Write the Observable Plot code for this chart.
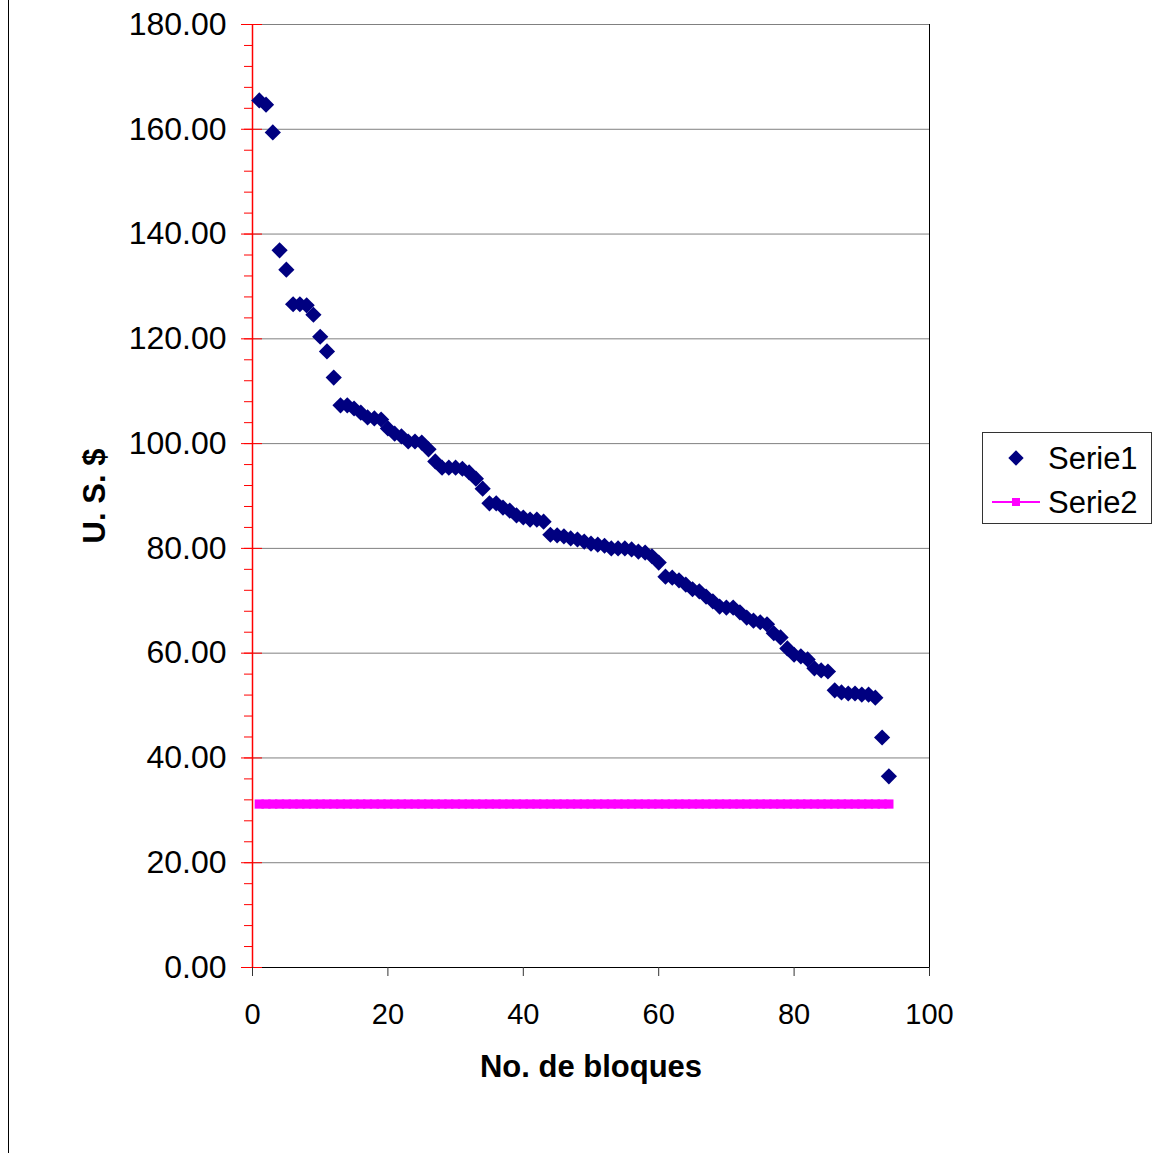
<!DOCTYPE html>
<html><head><meta charset="utf-8">
<script src="https://cdn.jsdelivr.net/npm/d3@7"></script>
<script src="https://cdn.jsdelivr.net/npm/@observablehq/plot@0.6"></script>
<style>
body{margin:0;background:#fff;}
#wrap{position:relative;width:1161px;height:1153px;overflow:hidden;font-family:"Liberation Sans",Arial,sans-serif;background:#fff;}
#edge{position:absolute;left:8px;top:0;width:1px;height:1153px;background:#000;}
#legend{position:absolute;left:982px;top:432px;}
</style></head><body><div id="wrap"><div id="edge"></div></div>
<script>
// Serie1 values (U.S. $) for blocks 1..94
const serie1 = [
  165.5, 164.7, 159.4, 136.9, 133.2, 126.6, 126.6, 126.4, 124.6, 120.4,
  117.6, 112.6, 107.3, 107.3, 106.7, 105.9, 105.0, 104.8, 104.6, 102.9,
  101.9, 101.4, 100.4, 100.4, 100.2, 98.9, 96.6, 95.4, 95.4, 95.4,
  95.2, 94.5, 93.3, 91.4, 88.6, 88.6, 87.8, 87.2, 86.3, 85.9,
  85.5, 85.5, 85.1, 82.6, 82.5, 82.3, 81.9, 81.7, 81.3, 80.9,
  80.7, 80.5, 80.0, 80.0, 80.0, 79.8, 79.4, 79.2, 78.5, 77.3,
  74.6, 74.4, 73.9, 73.1, 72.2, 71.8, 70.8, 69.9, 68.9, 68.7,
  68.7, 67.8, 66.8, 66.2, 65.9, 65.5, 63.8, 63.0, 60.9, 59.7,
  59.4, 58.8, 57.1, 56.7, 56.5, 52.9, 52.5, 52.3, 52.3, 52.1,
  52.1, 51.5, 43.9, 36.5
];
// Serie2: constant level
const serie2Level = 31.2;
const seriesNames = ["Serie1", "Serie2"];
const xTicks = [0, 20, 40, 60, 80, 100];
const yMajor = [0, 20, 40, 60, 80, 100, 120, 140, 160, 180];
const yMinor = d3.range(0, 181, 4);
const xTitle = "No. de bloques";
const yTitle = "U. S. $";

const blocks = d3.range(1, serie1.length + 1);
const rows = blocks.map((b, i) => ({x: b, s1: serie1[i], s2: serie2Level}));

const chart = Plot.plot({
  width: 1161, height: 1153,
  marginLeft: 252, marginRight: 232, marginTop: 24, marginBottom: 186,
  x: {domain: [0, 100], label: null},
  y: {domain: [0, 180], label: null},
  style: {fontFamily: '"Liberation Sans", Arial, sans-serif', background: "white", color: "black"},
  marks: [
    Plot.gridY(yMajor.filter(v => v > 0), {stroke: "#808080", strokeOpacity: 1}),
    Plot.ruleY([0], {stroke: "#000"}),
    Plot.ruleX([100], {stroke: "#000"}),
    Plot.axisY(yMinor, {tickSize: 8, fill: "none", stroke: "red", label: null}),
    Plot.axisY(yMajor, {tickSize: 21, dx: 10, fill: "none", stroke: "red", label: null}),
    Plot.axisY(yMajor, {tickSize: 0, tickPadding: 26, stroke: "none", fill: "black", fontSize: 32, tickFormat: d3.format(".2f"), label: null}),
    Plot.axisX(xTicks, {tickSize: 9, tickPadding: 27, fontSize: 29, stroke: "#333", fill: "black", label: null}),
    Plot.ruleX([0], {stroke: "red", strokeWidth: 1.5}),
    Plot.lineY(rows, {x: "x", y: "s2", stroke: "#ff00ff", strokeWidth: 2}),
    Plot.dot(rows, {x: "x", y: "s2", symbol: "square", r: 5.2, fill: "#ff00ff", stroke: "none"}),
    Plot.dot(rows, {x: "x", y: "s1", symbol: "diamond2", r: 7.3, fill: "#000080", stroke: "none"}),
    Plot.text([xTitle], {text: d => d, frameAnchor: "bottom", lineAnchor: "middle", textAnchor: "middle", dy: 100, fontWeight: "bold", fontSize: 31}),
    Plot.text([yTitle], {text: d => d, frameAnchor: "left", lineAnchor: "middle", textAnchor: "middle", dx: -157, rotate: -90, fontWeight: "bold", fontSize: 31})
  ]
});
const wrap = document.getElementById("wrap");
chart.style.position = "absolute";
chart.style.left = "0px";
chart.style.top = "0px";
wrap.insertBefore(chart, wrap.firstChild);

// Legend
const lg = d3.select(wrap).append("svg").attr("id", "legend")
  .attr("width", 170).attr("height", 92)
  .style("font-family", '"Liberation Sans", Arial, sans-serif');
lg.append("rect").attr("x", 0.5).attr("y", 0.5).attr("width", 169).attr("height", 91)
  .attr("fill", "white").attr("stroke", "#333");
// row 1: diamond
lg.append("path").attr("d", d3.symbol(d3.symbolDiamond2, 150)()).attr("transform", "translate(34,26)")
  .attr("fill", "#000080");
// row 2: line with square
lg.append("line").attr("x1", 10).attr("x2", 58).attr("y1", 70).attr("y2", 70)
  .attr("stroke", "#ff00ff").attr("stroke-width", 2);
lg.append("rect").attr("x", 30).attr("y", 66).attr("width", 8).attr("height", 8).attr("fill", "#ff00ff");
lg.selectAll("text.lab").data(seriesNames).join("text").attr("class", "lab")
  .attr("x", 66).attr("y", (d, i) => 37 + i * 44)
  .attr("font-size", 31).attr("fill", "black").text(d => d);
</script></body></html>
